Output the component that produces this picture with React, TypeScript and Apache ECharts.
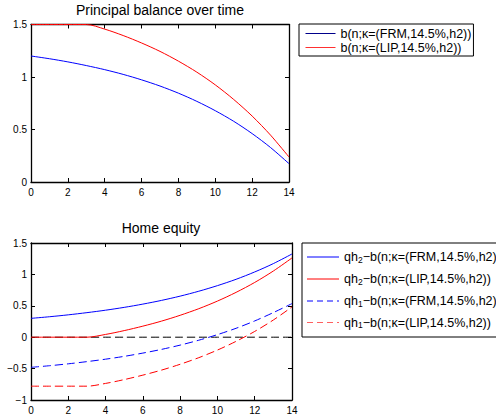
import React, { useEffect, useRef } from "react";
import * as echarts from "echarts";

const FONT = "'Liberation Sans', Arial, Helvetica, sans-serif";

// periods
const periods = [0, 1, 2, 3, 4, 5, 6, 7, 8, 9, 10, 11, 12, 13, 14];
// principal balance
const balanceFRM = [1.2, 1.174, 1.144, 1.109, 1.07, 1.025, 0.973, 0.914, 0.846, 0.768, 0.679, 0.578, 0.461, 0.328, 0.175];
const balanceLIP = [1.5, 1.5, 1.5, 1.5, 1.456, 1.395, 1.324, 1.244, 1.151, 1.046, 0.925, 0.786, 0.628, 0.446, 0.238];
// home equity
const equityH2FRM = [0.3, 0.326, 0.356, 0.391, 0.43, 0.475, 0.527, 0.586, 0.654, 0.732, 0.821, 0.922, 1.039, 1.172, 1.325];
const equityH2LIP = [0, 0, 0, 0, 0.044, 0.105, 0.176, 0.256, 0.349, 0.454, 0.575, 0.714, 0.872, 1.054, 1.262];
const equityH1FRM = [-0.48, -0.454, -0.424, -0.389, -0.35, -0.305, -0.253, -0.194, -0.126, -0.048, 0.041, 0.142, 0.259, 0.392, 0.535];
const equityH1LIP = [-0.78, -0.78, -0.78, -0.78, -0.736, -0.675, -0.604, -0.524, -0.431, -0.326, -0.205, -0.066, 0.092, 0.274, 0.482];
const zeroLine = [0, 0, 0, 0, 0, 0, 0, 0, 0, 0, 0, 0, 0, 0, 0];

const topNames = ["b(n;κ=(FRM,14.5%,h2))", "b(n;κ=(LIP,14.5%,h2))"];
const bottomNames = [
  "qh2−b(n;κ=(FRM,14.5%,h2))",
  "qh2−b(n;κ=(LIP,14.5%,h2))",
  "qh1−b(n;κ=(FRM,14.5%,h2))",
  "qh1−b(n;κ=(LIP,14.5%,h2))",
];
const titles = ["Principal balance over time", "Home equity"];

const pairs = (ys: number[]) => periods.map((x, i) => [x, ys[i]]);

const fmtY = (v: number) => (v < 0 ? "−" + String(Math.abs(v)) : String(v));

function axesFor(grid: number, yMin: number, yMax: number) {
  const line = { show: true, onZero: false, lineStyle: { color: "#000", width: 1.3 } };
  const tick = { show: true, inside: true, length: 4, lineStyle: { color: "#000", width: 1 } };
  const x = [
    {
      gridIndex: grid, type: "value", min: 0, max: 14, interval: 2, position: "bottom",
      axisLine: line, axisTick: tick, splitLine: { show: false },
      axisLabel: { color: "#000", fontSize: 10, margin: 5, fontFamily: FONT },
    },
    {
      gridIndex: grid, type: "value", min: 0, max: 14, interval: 2, position: "top",
      axisLine: line, axisTick: tick, splitLine: { show: false }, axisLabel: { show: false },
    },
  ];
  const y = [
    {
      gridIndex: grid, type: "value", min: yMin, max: yMax, interval: 0.5, position: "left",
      axisLine: line, axisTick: tick, splitLine: { show: false },
      axisLabel: { color: "#000", fontSize: 10, margin: 4, fontFamily: FONT, formatter: fmtY },
    },
    {
      gridIndex: grid, type: "value", min: yMin, max: yMax, interval: 0.5, position: "right",
      axisLine: line, axisTick: tick, splitLine: { show: false }, axisLabel: { show: false },
    },
  ];
  return { x, y };
}

export default function App() {
  const ref = useRef<HTMLDivElement>(null);
  useEffect(() => {
    if (!ref.current) return;
    const chart = echarts.init(ref.current, null, { renderer: "svg" });
    const a0 = axesFor(0, 0, 1.5);
    const a1 = axesFor(1, -1, 1.5);
    const lineSeries = (name: string, data: number[], xi: number, color: string, dashed: boolean) => ({
      name,
      type: "line",
      xAxisIndex: xi,
      yAxisIndex: xi,
      data: pairs(data),
      showSymbol: false,
      symbol: "none",
      smooth: 0.3,
      lineStyle: { color, width: 1, type: dashed ? [8, 4] : "solid" },
      itemStyle: { color },
      z: 3,
    });
    const hidden = { opacity: 0 };

    // bottom legend, drawn as graphic so it can run past the right edge like the reference
    const legendColors = ["#0000ff", "#ff0000", "#0000ff", "#ff6060"];
    const legendDashed = [false, false, true, true];
    const rowY = [257, 279, 301, 322.5];
    const bottomLegend: any[] = [
      {
        type: "rect", shape: { x: 302, y: 243, width: 240, height: 94 },
        style: { fill: "#fff", stroke: "#000", lineWidth: 1 }, z: 10,
      },
    ];
    bottomNames.forEach((nm, i) => {
      bottomLegend.push({
        type: "line", shape: { x1: 307, y1: rowY[i], x2: 339, y2: rowY[i] },
        style: { stroke: legendColors[i], lineWidth: 1, lineDash: legendDashed[i] ? [6, 4] : null }, z: 11,
      });
      bottomLegend.push({
        type: "text", x: 344, y: rowY[i], z: 11,
        style: {
          text: nm.replace(/^qh(\d)(.*)$/, "{a|qh}{s|$1}{a|$2}"),
          verticalAlign: "middle", align: "left",
          rich: {
            a: { fontSize: 12.5, fill: "#000", fontFamily: FONT, lineHeight: 14 },
            s: { fontSize: 8.5, fill: "#000", fontFamily: FONT, lineHeight: 6, verticalAlign: "bottom" },
          },
        },
      });
    });

    const option: any = {
      animation: false,
      backgroundColor: "#fff",
      textStyle: { fontFamily: FONT },
      grid: [
        { left: 31, top: 24.5, width: 258, height: 157.5 },
        { left: 31, top: 243, width: 261, height: 157 },
      ],
      xAxis: [...a0.x, ...a1.x],
      yAxis: [...a0.y, ...a1.y],
      graphic: [
        {
          type: "text", x: 160, y: 3,
          style: { text: titles[0], font: `14px ${FONT}`, fill: "#000", align: "center", verticalAlign: "top" },
        },
        {
          type: "text", x: 161, y: 221,
          style: { text: titles[1], font: `14px ${FONT}`, fill: "#000", align: "center", verticalAlign: "top" },
        },
        ...bottomLegend,
      ],
      legend: [
        {
          orient: "vertical", left: 299, top: 24, padding: [3, 2, 2, 6], itemGap: 1,
          itemWidth: 30, itemHeight: 12, borderColor: "#000", borderWidth: 1, borderRadius: 0,
          backgroundColor: "#fff", selectedMode: false,
          itemStyle: hidden,
          textStyle: { fontSize: 12.5, lineHeight: 12, color: "#000", fontFamily: FONT },
          data: [
            { name: topNames[0], lineStyle: { color: "#00008b", width: 1 }, itemStyle: hidden },
            { name: topNames[1], lineStyle: { color: "#ff3030", width: 1 }, itemStyle: hidden },
          ],
        },
      ],
      series: [
        lineSeries(topNames[0], balanceFRM, 0, "#0000ff", false),
        lineSeries(topNames[1], balanceLIP, 0, "#ff0000", false),
        { ...lineSeries("zero", zeroLine, 2, "#000", true), z: 2 },
        lineSeries(bottomNames[0], equityH2FRM, 2, "#0000ff", false),
        lineSeries(bottomNames[1], equityH2LIP, 2, "#ff0000", false),
        lineSeries(bottomNames[2], equityH1FRM, 2, "#0000ff", true),
        lineSeries(bottomNames[3], equityH1LIP, 2, "#ff0000", true),
      ],
    };
    chart.setOption(option);
    return () => chart.dispose();
  }, []);
  return (
    <div
      ref={ref}
      style={{ position: "absolute", left: 0, top: 0, width: 496, height: 417, overflow: "hidden" }}
    />
  );
}
